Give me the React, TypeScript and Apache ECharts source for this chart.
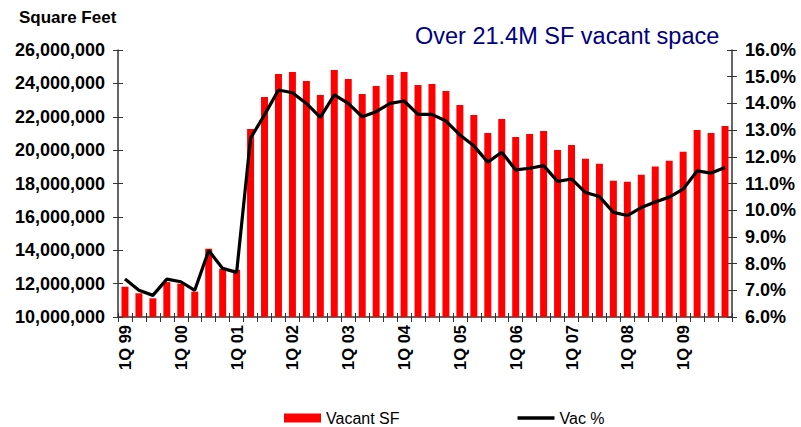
import React, { useEffect, useRef } from "react";
import * as echarts from "echarts";

const categories: string[] = [
  "1Q 99", "2Q 99", "3Q 99", "4Q 99",
  "1Q 00", "2Q 00", "3Q 00", "4Q 00",
  "1Q 01", "2Q 01", "3Q 01", "4Q 01",
  "1Q 02", "2Q 02", "3Q 02", "4Q 02",
  "1Q 03", "2Q 03", "3Q 03", "4Q 03",
  "1Q 04", "2Q 04", "3Q 04", "4Q 04",
  "1Q 05", "2Q 05", "3Q 05", "4Q 05",
  "1Q 06", "2Q 06", "3Q 06", "4Q 06",
  "1Q 07", "2Q 07", "3Q 07", "4Q 07",
  "1Q 08", "2Q 08", "3Q 08", "4Q 08",
  "1Q 09", "2Q 09", "3Q 09", "4Q 09",
];

const vacantSF: number[] = [
  11820000, 11420000, 11120000, 12090000,
  12000000, 11520000, 14090000, 12890000,
  12830000, 21270000, 23190000, 24560000,
  24680000, 24140000, 23310000, 24800000,
  24260000, 23370000, 23850000, 24500000,
  24680000, 23910000, 23970000, 23550000,
  22710000, 22110000, 21030000, 21870000,
  20790000, 20970000, 21150000, 20010000,
  20310000, 19480000, 19180000, 18160000,
  18100000, 18520000, 19020000, 19360000,
  19900000, 21210000, 21030000, 21450000,
];

const vacPct: number[] = [
  7.42, 7.0, 6.81, 7.42,
  7.32, 7.0, 8.49, 7.82,
  7.67, 12.7, 13.57, 14.5,
  14.4, 14.0, 13.48, 14.32,
  14.0, 13.5, 13.69, 14.0,
  14.09, 13.59, 13.59, 13.34,
  12.82, 12.41, 11.8, 12.17,
  11.51, 11.57, 11.67, 11.08,
  11.17, 10.66, 10.51, 9.92,
  9.8, 10.1, 10.31, 10.49,
  10.79, 11.47, 11.39, 11.6,
];

const leftTicks = { min: 10000000, max: 26000000, interval: 2000000 };
const rightTicks = { min: 6, max: 16, interval: 1 };

const titleText = "Over 21.4M SF vacant space";
const leftAxisName = "Square Feet";
const seriesNames = ["Vacant SF", "Vac %"];

const FONT = "'Liberation Sans', Arial, sans-serif";
const AXIS_COLOR = "#333333";

export default function App() {
  const ref = useRef<HTMLDivElement>(null);

  useEffect(() => {
    if (!ref.current) return;
    const chart = echarts.init(ref.current, undefined, { renderer: "svg" });
    const grid = { left: 118, right: 69, top: 50, bottom: 110 };
    const boldLabel = {
      fontFamily: FONT,
      fontWeight: "bold" as const,
      fontSize: 18,
      color: "#000",
    };
    chart.setOption({
      animation: false,
      backgroundColor: "#fff",
      textStyle: { fontFamily: FONT },
      grid,
      graphic: [
        {
          type: "text",
          left: 19,
          top: 9,
          style: {
            text: leftAxisName,
            font: `bold 17px ${FONT}`,
            fill: "#000",
          },
        },
        {
          type: "text",
          left: 415,
          top: 24,
          style: {
            text: titleText,
            font: `23.5px ${FONT}`,
            fill: "#000080",
          },
        },
      ],
      legend: {
        top: 405,
        left: 279,
        itemGap: 118,
        itemWidth: 37,
        itemHeight: 9,
        textStyle: { fontFamily: FONT, fontSize: 16, color: "#000" },
        data: [
          { name: seriesNames[0], icon: "rect" },
          { name: seriesNames[1], icon: "path://M0,0H37V3.5H0Z" },
        ],
      },
      xAxis: [
        {
          type: "category",
          data: categories,
          boundaryGap: true,
          axisLine: { show: true, lineStyle: { color: AXIS_COLOR, width: 1.5 } },
          axisTick: {
            show: true,
            interval: 0,
            alignWithLabel: false,
            length: 5,
            lineStyle: { color: AXIS_COLOR },
          },
          axisLabel: {
            ...boldLabel,
            fontSize: 16.5,
            rotate: 90,
            interval: 3,
            margin: 8,
          },
          splitLine: { show: false },
        },
        {
          type: "category",
          data: categories,
          position: "bottom",
          boundaryGap: true,
          axisLine: { show: false },
          axisTick: {
            show: true,
            inside: true,
            interval: 0,
            length: 4,
            lineStyle: { color: AXIS_COLOR },
          },
          axisLabel: { show: false },
          splitLine: { show: false },
        },
      ],
      yAxis: [
        {
          type: "value",
          position: "left",
          ...leftTicks,
          axisLine: { show: true, lineStyle: { color: AXIS_COLOR, width: 1.5 } },
          axisTick: { show: true, length: 5, lineStyle: { color: AXIS_COLOR } },
          axisLabel: {
            ...boldLabel,
            margin: 13,
            formatter: (v: number) => v.toLocaleString("en-US"),
          },
          splitLine: { show: false },
        },
        {
          type: "value",
          position: "right",
          ...rightTicks,
          axisLine: { show: true, lineStyle: { color: AXIS_COLOR, width: 1.5 } },
          axisTick: { show: true, length: 5, lineStyle: { color: AXIS_COLOR } },
          axisLabel: {
            ...boldLabel,
            margin: 13,
            formatter: (v: number) => v.toFixed(1) + "%",
          },
          splitLine: { show: false },
        },
        {
          type: "value",
          position: "left",
          ...leftTicks,
          axisLine: { show: false },
          axisTick: { show: true, inside: true, length: 5, lineStyle: { color: AXIS_COLOR } },
          axisLabel: { show: false },
          splitLine: { show: false },
        },
        {
          type: "value",
          position: "right",
          ...rightTicks,
          axisLine: { show: false },
          axisTick: { show: true, inside: true, length: 5, lineStyle: { color: AXIS_COLOR } },
          axisLabel: { show: false },
          splitLine: { show: false },
        },
      ],
      series: [
        {
          name: seriesNames[0],
          type: "bar",
          xAxisIndex: 0,
          yAxisIndex: 0,
          data: vacantSF,
          barWidth: "50%",
          itemStyle: { color: "#ff0000" },
        },
        {
          name: seriesNames[1],
          type: "line",
          xAxisIndex: 0,
          yAxisIndex: 1,
          data: vacPct,
          symbol: "none",
          lineStyle: { color: "#000", width: 3.2 },
          itemStyle: { color: "#000" },
          z: 5,
        },
      ],
    });
    return () => chart.dispose();
  }, []);

  return (
    <div
      ref={ref}
      style={{ position: "fixed", left: 0, top: 0, width: 801, height: 427, background: "#fff" }}
    />
  );
}
